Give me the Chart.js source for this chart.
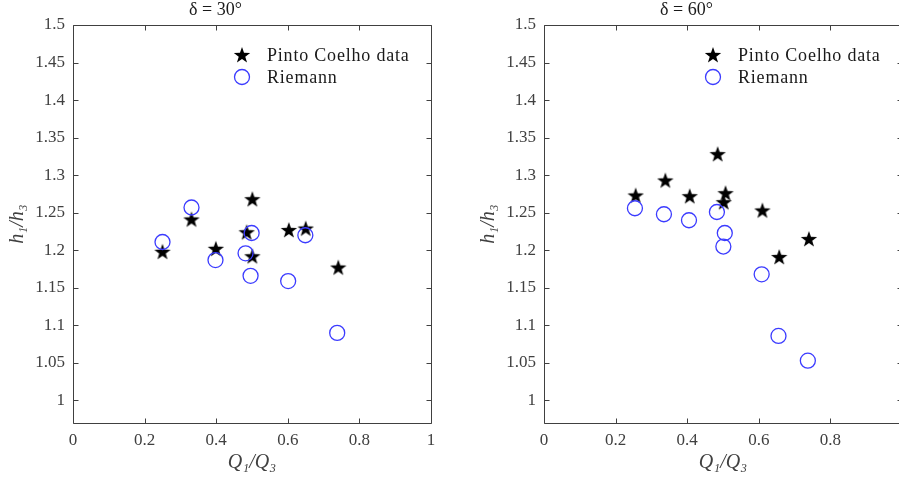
<!DOCTYPE html>
<html><head><meta charset="utf-8">
<script src="https://cdn.jsdelivr.net/npm/chart.js@4"></script>
<style>
html,body{margin:0;padding:0;background:#fff;overflow:hidden;width:899px;height:478px;}
#c1{position:absolute;left:0;top:0;}
#c2{position:absolute;left:471px;top:0;}
#fontwarm{position:absolute;left:-2000px;top:0;font-family:"Liberation Serif";font-size:17px;}
#fontwarm i{font-style:italic;}
</style></head><body>
<div id="fontwarm">Pinto Coelho data 0.123456789 <i>Q₁/Q₃ h₁/h₃</i> δ = 30°</div>
<canvas id="c1" width="450" height="478"></canvas>
<canvas id="c2" width="450" height="478"></canvas>
<script>
// ---- data ----
const xTicks = [0, 0.2, 0.4, 0.6, 0.8, 1];
const yTicks = [1, 1.05, 1.1, 1.15, 1.2, 1.25, 1.3, 1.35, 1.4, 1.45, 1.5];
const xLabel = 'Q₁/Q₃';
const yLabel = 'h₁/h₃';
const seriesNames = ['Pinto Coelho data', 'Riemann'];

const titles = ['δ = 30°', 'δ = 60°'];

const q30Pinto = [0.250, 0.331, 0.399, 0.501, 0.485, 0.501, 0.603, 0.650, 0.741];
const h30Pinto = [1.198, 1.241, 1.202, 1.268, 1.224, 1.192, 1.227, 1.229, 1.177];
const q30Riem  = [0.250, 0.331, 0.398, 0.499, 0.482, 0.496, 0.601, 0.649, 0.738];
const h30Riem  = [1.211, 1.257, 1.187, 1.223, 1.196, 1.166, 1.159, 1.220, 1.090];

const q60Pinto = [0.256, 0.339, 0.407, 0.485, 0.507, 0.502, 0.610, 0.657, 0.740];
const h60Pinto = [1.273, 1.293, 1.272, 1.328, 1.276, 1.264, 1.253, 1.191, 1.215];
const q60Riem  = [0.254, 0.335, 0.405, 0.483, 0.505, 0.501, 0.608, 0.655, 0.737];
const h60Riem  = [1.256, 1.248, 1.240, 1.251, 1.223, 1.205, 1.168, 1.086, 1.053];

// ---- star marker ----
function makeStar() {
  const c = document.createElement('canvas');
  c.width = 20; c.height = 20;
  const g = c.getContext('2d');
  const R = 8.6, r = R * 0.40;
  g.beginPath();
  for (let i = 0; i < 10; i++) {
    const a = -Math.PI / 2 + i * Math.PI / 5;
    const rr = i % 2 === 0 ? R : r;
    const x = 10 + rr * Math.cos(a), y = 10.6 + rr * Math.sin(a);
    i === 0 ? g.moveTo(x, y) : g.lineTo(x, y);
  }
  g.closePath();
  g.fillStyle = '#000';
  g.fill();
  return c;
}
const starImg = makeStar();
const circleColor = '#3b3bff';
const axisColor = '#404040';
const serif = '"Liberation Serif", serif';

const pts = (xs, ys) => xs.map((x, i) => ({x: x, y: ys[i]}));

const boxPlugin = {
  id: 'matlabBox',
  afterDraw(chart) {
    const {ctx, chartArea: a, scales} = chart;
    ctx.save();
    ctx.strokeStyle = axisColor;
    ctx.lineWidth = 1;
    const L = Math.round(a.left) + 0.5, R = Math.round(a.right) + 0.5;
    const T = Math.round(a.top) + 0.5, B = Math.round(a.bottom) + 0.5;
    ctx.beginPath();
    ctx.moveTo(L, T); ctx.lineTo(R, T); ctx.lineTo(R, B); ctx.lineTo(L, B); ctx.closePath();
    const tl = 5;
    xTicks.forEach(v => {
      const x = Math.round(scales.x.getPixelForValue(v)) + 0.5;
      ctx.moveTo(x, B); ctx.lineTo(x, B - tl);
      ctx.moveTo(x, T); ctx.lineTo(x, T + tl);
    });
    yTicks.forEach(v => {
      const y = Math.round(scales.y.getPixelForValue(v)) + 0.5;
      ctx.moveTo(L, y); ctx.lineTo(L + tl, y);
      ctx.moveTo(R, y); ctx.lineTo(R - tl, y);
    });
    ctx.stroke();
    ctx.restore();
  }
};

const legendPlugin = {
  id: 'insideLegend',
  afterDraw(chart) {
    const {ctx, chartArea: a} = chart;
    ctx.save();
    chart.data.datasets.forEach((ds, i) => {
      const mx = a.left + 169, my = a.top + 30 + i * 22;
      if (i === 0) {
        ctx.drawImage(starImg, mx - 10, my - 10);
      } else {
        ctx.beginPath();
        ctx.arc(mx, my, 7.5, 0, Math.PI * 2);
        ctx.strokeStyle = circleColor;
        ctx.lineWidth = 1.3;
        ctx.stroke();
      }
      ctx.font = '18px ' + serif;
      if ('letterSpacing' in ctx) ctx.letterSpacing = '0.8px';
      ctx.fillStyle = '#1a1a1a';
      ctx.textBaseline = 'middle';
      ctx.textAlign = 'left';
      ctx.fillText(ds.label, mx + 25, my + 1);
    });
    ctx.restore();
  }
};

function makeChart(id, title, qp, hp, qr, hr) {
  return new Chart(document.getElementById(id), {
    type: 'scatter',
    data: {
      datasets: [
        {label: seriesNames[0], data: pts(qp, hp), pointStyle: starImg, pointRadius: 9, order: 1},
        {label: seriesNames[1], data: pts(qr, hr), pointStyle: 'circle', pointRadius: 7.5,
         borderColor: circleColor, backgroundColor: 'rgba(0,0,0,0)', borderWidth: 1.3, order: 0}
      ]
    },
    options: {
      responsive: false,
      devicePixelRatio: 1,
      animation: false,
      layout: {padding: {left: 0, right: 19, top: 0, bottom: 0}},
      plugins: {
        legend: {display: false},
        tooltip: {enabled: false},
        title: {display: true, text: title, color: '#1a1a1a',
                font: {family: serif, size: 18, weight: 'normal', lineHeight: 1.1},
                padding: {top: 0, bottom: 5.2}}
      },
      scales: {
        x: {
          type: 'linear', min: 0, max: 1,
          afterBuildTicks: s => { s.ticks = xTicks.map(v => ({value: v})); },
          afterFit: s => { s.height = 55; },
          grid: {display: false, drawTicks: false},
          border: {display: false},
          ticks: {color: axisColor, font: {family: serif, size: 17}, padding: 7,
                  maxRotation: 0, autoSkip: false, callback: v => String(v)},
          title: {display: true, text: xLabel, color: axisColor,
                  font: {family: serif, size: 20, style: 'italic', lineHeight: 1.2}, padding: {top: 0, bottom: 3}}
        },
        y: {
          type: 'linear', min: 0.97, max: 1.5,
          afterBuildTicks: s => { s.ticks = yTicks.map(v => ({value: v})); },
          afterFit: s => { s.width = 73; },
          grid: {display: false, drawTicks: false},
          border: {display: false},
          ticks: {color: axisColor, font: {family: serif, size: 17}, padding: 8,
                  autoSkip: false, callback: v => String(v)},
          title: {display: true, text: yLabel, color: axisColor,
                  font: {family: serif, size: 20, style: 'italic', lineHeight: 1.2}, padding: {top: 6, bottom: 0}}
        }
      }
    },
    plugins: [boxPlugin, legendPlugin]
  });
}

function drawAll() {
  makeChart('c1', titles[0], q30Pinto, h30Pinto, q30Riem, h30Riem);
  makeChart('c2', titles[1], q60Pinto, h60Pinto, q60Riem, h60Riem);
}
let drawn = false;
function once() { if (!drawn) { drawn = true; drawAll(); } }
if (document.fonts && document.fonts.load) {
  Promise.all([
    document.fonts.load('17px "Liberation Serif"'),
    document.fonts.load('italic 17px "Liberation Serif"')
  ]).then(once, once);
  setTimeout(once, 300);
} else {
  once();
}
</script>
</body></html>
